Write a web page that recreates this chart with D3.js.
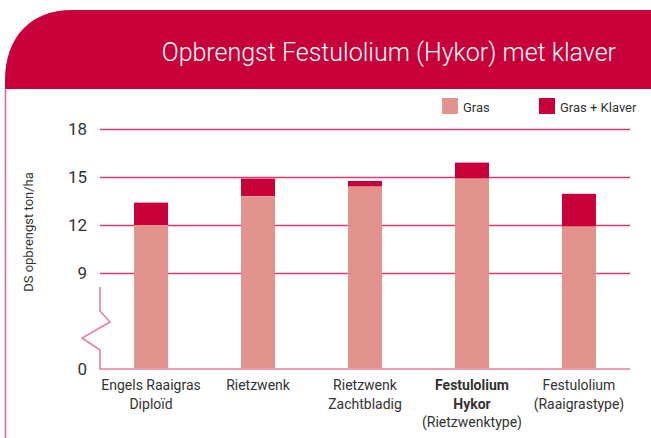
<!DOCTYPE html>
<html>
<head>
<meta charset="utf-8">
<script src="https://cdn.jsdelivr.net/npm/d3@7"></script>
<style>
  body { margin: 0; background: #fff; }
  text { font-family: Roboto, "Liberation Sans", sans-serif; fill: #333; }
</style>
</head>
<body>
<div id="chart-area"></div>
<script>
// data
var categories = ["Engels Raaigras", "Rietzwenk", "Rietzwenk Z", "Festulolium Hykor", "Festulolium R"];
var labelLines = [
    ["Engels Raaigras", "Diploïd"],
    ["Rietzwenk"],
    ["Rietzwenk", "Zachtbladig"],
    ["Festulolium", "Hykor", "(Rietzwenktype)"],
    ["Festulolium", "(Raaigrastype)"]
];
var boldLines = [0, 0, 0, 2, 0];   // number of bold lines per label
var gras   = [12.0, 13.8, 14.4, 14.9, 11.9];
var totaal = [13.4, 14.9, 14.75, 15.9, 13.95];
var yTicks = [0, 9, 12, 15, 18];
var seriesNames = ["Gras", "Gras + Klaver"];

var red = "#c8003a", pink = "#e3938e";

var width = 651, height = 438;

var svg = d3.select("#chart-area")
    .append("svg")
        .attr("width", width)
        .attr("height", height);

// header band with rounded top-left corner
svg.append("path")
    .attr("d", "M5,89 L5,80 C5,38 30,10 72,10 L651,10 L651,89 Z")
    .attr("fill", red);

svg.append("line")
    .attr("x1", 5.5).attr("x2", 5.5)
    .attr("y1", 89).attr("y2", height)
    .attr("stroke", "#dc6585")
    .attr("stroke-width", 1.5);

svg.append("text")
    .attr("x", 616)
    .attr("y", 61)
    .attr("text-anchor", "end")
    .attr("font-size", "25px")
    .attr("font-weight", 300)
    .style("fill", "#fff")
    .text("Opbrengst Festulolium (Hykor) met klaver");

// scales
var x = d3.scaleBand()
    .domain(categories)
    .range([100, 630])
    .paddingInner(0.682)
    .paddingOuter(0.318);

// broken axis: 0 sits just below the break, 9..18 linear
var y = d3.scaleLinear()
    .domain([0, 9, 18])
    .range([369, 273, 129]);

// gridlines + tick labels
var yAxisCall = d3.axisLeft(y)
    .tickValues(yTicks)
    .tickSize(0)
    .tickPadding(13);

var yAxis = svg.append("g")
    .attr("class", "y-axis")
    .attr("transform", "translate(100, 0)")
    .call(yAxisCall);

yAxis.select(".domain").remove();
yAxis.selectAll("text")
    .attr("font-size", "17px")
    .style("font-family", "Roboto, sans-serif")
    .attr("fill", "#333");

yAxis.selectAll(".tick")
    .filter(function(d) { return d > 0; })
    .append("line")
        .attr("x1", 0)
        .attr("x2", 530)
        .attr("stroke", "#df3a6b")
        .attr("stroke-width", 1.6);

// axis line with break
var brk = d3.line();
svg.append("path")
    .attr("d", brk([[100, 287], [100, 311], [110, 322], [82, 338], [100, 350], [100, 369], [630, 369]]))
    .attr("fill", "none")
    .attr("stroke", "#e5809c")
    .attr("stroke-width", 1.6);

// bars
var bars = svg.append("g");

bars.selectAll("rect.klaver")
    .data(categories)
    .enter()
    .append("rect")
        .attr("class", "klaver")
        .attr("x", function(d) { return x(d); })
        .attr("y", function(d, i) { return y(totaal[i]); })
        .attr("width", x.bandwidth())
        .attr("height", function(d, i) { return y(gras[i]) - y(totaal[i]); })
        .attr("fill", red);

bars.selectAll("rect.gras")
    .data(categories)
    .enter()
    .append("rect")
        .attr("class", "gras")
        .attr("x", function(d) { return x(d); })
        .attr("y", function(d, i) { return y(gras[i]); })
        .attr("width", x.bandwidth())
        .attr("height", function(d, i) { return y(0) - 0.8 - y(gras[i]); })
        .attr("fill", pink);

// category labels
var labels = svg.append("g");
categories.forEach(function(c, i) {
    var t = labels.append("text")
        .attr("x", x(c) + x.bandwidth() / 2)
        .attr("y", 390)
        .attr("text-anchor", "middle")
        .attr("font-size", "14px");
    labelLines[i].forEach(function(line, j) {
        t.append("tspan")
            .attr("x", x(c) + x.bandwidth() / 2)
            .attr("dy", j === 0 ? 0 : 18.5)
            .attr("font-weight", j < boldLines[i] ? "bold" : "normal")
            .text(line);
    });
});

// y label
svg.append("text")
    .attr("transform", "translate(33, 232) rotate(-90)")
    .attr("text-anchor", "middle")
    .attr("font-size", "13px")
    .text("DS opbrengst ton/ha");

// legend
var legendX = [442, 539];
var legendColors = [pink, red];
seriesNames.forEach(function(name, i) {
    svg.append("rect")
        .attr("x", legendX[i])
        .attr("y", 98)
        .attr("width", 16)
        .attr("height", 16)
        .attr("fill", legendColors[i]);
    svg.append("text")
        .attr("x", legendX[i] + 21)
        .attr("y", 112)
        .attr("font-size", "13px")
        .text(name);
});
</script>
</body>
</html>
